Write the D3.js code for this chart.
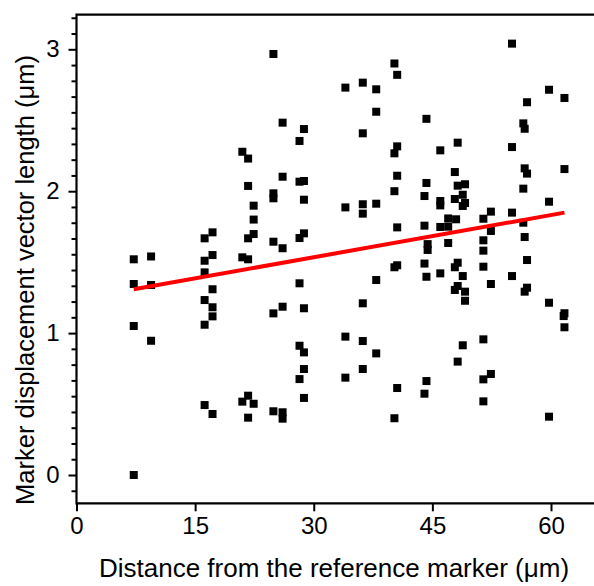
<!DOCTYPE html>
<html>
<head>
<meta charset="utf-8">
<script src="https://cdn.jsdelivr.net/npm/d3@7"></script>
<style>
  body { margin: 0; background: #fff; }
  svg { display: block; }
  text { font-family: "Liberation Sans", Arial, sans-serif; }
</style>
</head>
<body>
<div id="chart"></div>
<script>
// distance from the reference marker (um) and displacement length (um)
var distance = [
  7.24, 9.43, 16.2, 17.2, 20.97, 21.7, 21.7, 22.4, 22.4, 21.7, 22.4, 16.2, 17.2, 20.97, 21.7,
  7.24, 9.43, 16.2, 17.2, 16.2, 17.2, 17.2, 16.2, 7.24, 9.43, 16.2, 17.2, 21.7, 20.97, 22.4, 21.7, 7.24,
  24.9, 40.2, 40.55, 34.0, 36.2, 37.9, 37.9, 44.25, 26.06, 28.76, 28.2, 36.2, 40.55, 40.2,
  26.06, 28.2, 28.76, 24.9, 24.9, 28.76, 40.55, 40.2, 34.0, 36.2, 36.2, 37.9, 40.55, 44.25, 44.0, 44.0,
  24.9, 26.06, 28.2, 28.76, 44.4, 44.4, 40.2, 40.55, 44.0, 44.25, 37.9, 28.2, 26.06, 24.9, 28.76, 36.2,
  34.0, 36.2, 37.9, 28.2, 28.76, 28.76, 28.2, 34.0, 36.2, 28.76, 24.9, 26.06, 26.06, 40.55, 40.2, 44.25, 44.0,
  55.07, 59.75, 61.7, 56.97, 56.5, 56.67, 46.0, 48.2, 55.07, 47.84, 48.2, 49.13, 48.84, 47.84, 46.0, 46.0,
  49.13, 48.84, 52.4, 51.45, 55.07, 56.67, 56.97, 56.5, 59.75, 61.7, 47.0, 48.0, 46.0, 47.0, 56.5, 52.4,
  51.45, 47.0, 56.67, 51.45, 56.97, 48.2, 47.84, 51.45, 46.0, 48.84, 55.07, 52.4, 48.2, 47.84, 49.13, 49.13,
  56.97, 56.67, 59.75, 61.7, 61.6, 61.7, 51.45, 48.84, 48.2, 52.4, 51.45, 51.45, 59.75
];
var displacement = [
  1.52, 1.54, 1.668, 1.71, 2.278, 2.23, 2.037, 1.898, 1.80, 1.668, 1.698, 1.51, 1.55, 1.534, 1.52,
  1.346, 1.339, 1.428, 1.309, 1.233, 1.182, 1.118, 1.059, 1.05, 0.946, 0.493, 0.43, 0.559, 0.517, 0.502, 0.404, 0.0,
  2.967, 2.90, 2.82, 2.73, 2.765, 2.718, 2.56, 2.51, 2.483, 2.438, 2.354, 2.408, 2.316, 2.267,
  2.102, 2.067, 2.072, 1.985, 1.95, 1.94, 2.109, 2.0, 1.886, 1.908, 1.842, 1.912, 1.745, 2.058, 1.966, 1.757,
  1.644, 1.598, 1.67, 1.703, 1.627, 1.586, 1.464, 1.478, 1.49, 1.397, 1.374, 1.351, 1.186, 1.139, 1.175, 1.21,
  0.975, 0.944, 0.857, 0.911, 0.864, 0.747, 0.676, 0.686, 0.747, 0.543, 0.449, 0.442, 0.397, 0.613, 0.40, 0.662, 0.573,
  3.04, 2.715, 2.657, 2.627, 2.478, 2.44, 2.288, 2.342, 2.311, 2.135, 2.039, 2.049, 1.975, 1.945, 1.931, 1.90,
  1.917, 1.896, 1.856, 1.806, 1.849, 2.161, 2.124, 2.018, 1.926, 2.156, 1.808, 1.802, 1.748, 1.75, 1.778, 1.72,
  1.654, 1.635, 1.677, 1.581, 1.515, 1.496, 1.464, 1.468, 1.421, 1.402, 1.402, 1.346, 1.332, 1.304, 1.292, 1.228,
  1.32, 1.292, 1.214, 1.14, 1.12, 1.041, 0.956, 0.914, 0.799, 0.712, 0.674, 0.519, 0.411
];

// linear fit drawn in red
var fitSlope = 0.00992;
var fitIntercept = 1.237;

var xTicks = [0, 15, 30, 45, 60];
var yTicks = [0, 1, 2, 3];
var yMinorPerMajor = 8;

var width = 594, height = 586;

var x = d3.scaleLinear().domain([0, 60]).range([76.5, 551]);
var y = d3.scaleLinear().domain([0, 3]).range([475, 49.3]);

var xMax = x.invert(600);
var yMin = y.invert(503.3), yMax = y.invert(14.7);

var svg = d3.select("#chart")
            .append("svg")
            .attr("width", width)
            .attr("height", height);

// minor y ticks
var minor = [];
for (var k = Math.ceil(yMin * (yMinorPerMajor + 1)); k <= yMax * (yMinorPerMajor + 1); k++) {
  if (k % (yMinorPerMajor + 1) !== 0) minor.push(k / (yMinorPerMajor + 1));
}

svg.append("g")
   .attr("transform", "translate(" + x(0) + ",0)")
   .call(d3.axisLeft(y).tickValues(minor).tickSize(5).tickFormat(""))
   .call(function(g) { g.select(".domain").remove(); })
   .selectAll("line").attr("stroke", "#000").attr("stroke-width", 2);

var yAxis = svg.append("g")
   .attr("transform", "translate(" + x(0) + ",0)")
   .call(d3.axisLeft(y).tickValues(yTicks).tickSize(8).tickPadding(9).tickFormat(d3.format("d")));
yAxis.select(".domain").remove();
yAxis.selectAll("line").attr("stroke", "#000").attr("stroke-width", 2);
yAxis.selectAll("text").style("font-size", "24px").attr("fill", "#000")
     .attr("font-family", "Liberation Sans, Arial, sans-serif");

var xAxis = svg.append("g")
   .attr("transform", "translate(0," + y(yMin) + ")")
   .call(d3.axisBottom(x).tickValues(xTicks).tickSize(8).tickPadding(6).tickFormat(d3.format("d")));
xAxis.select(".domain").remove();
xAxis.selectAll("line").attr("stroke", "#000").attr("stroke-width", 2);
xAxis.selectAll("text").style("font-size", "24px").attr("fill", "#000")
     .attr("font-family", "Liberation Sans, Arial, sans-serif");

// frame: left, bottom, top
svg.append("path")
   .attr("d", "M" + x(xMax) + "," + y(yMax) + "H" + x(0) + "V" + y(yMin) + "H" + x(xMax))
   .attr("fill", "none")
   .attr("stroke", "#000")
   .attr("stroke-width", 2.2);

var points = distance.map(function(d, i) { return [d, displacement[i]]; });

svg.append("g")
   .selectAll("rect")
   .data(points)
   .enter()
   .append("rect")
     .attr("x", function(d) { return x(d[0]) - 4; })
     .attr("y", function(d) { return y(d[1]) - 4; })
     .attr("width", 8)
     .attr("height", 8)
     .attr("fill", "#000");

var xExt = d3.extent(distance);
svg.append("line")
   .attr("x1", x(xExt[0]))
   .attr("y1", y(fitIntercept + fitSlope * xExt[0]))
   .attr("x2", x(xExt[1]))
   .attr("y2", y(fitIntercept + fitSlope * xExt[1]))
   .attr("stroke", "#ff0000")
   .attr("stroke-width", 4);

svg.append("text")
   .attr("x", 334)
   .attr("y", 577)
   .attr("text-anchor", "middle")
   .style("font-size", "26px")
   .text("Distance from the reference marker (\u03bcm)");

svg.append("text")
   .attr("transform", "translate(34," + 280 + ") rotate(-90)")
   .attr("text-anchor", "middle")
   .style("font-size", "25.5px")
   .text("Marker displacement vector length (\u03bcm)");
</script>
</body>
</html>
